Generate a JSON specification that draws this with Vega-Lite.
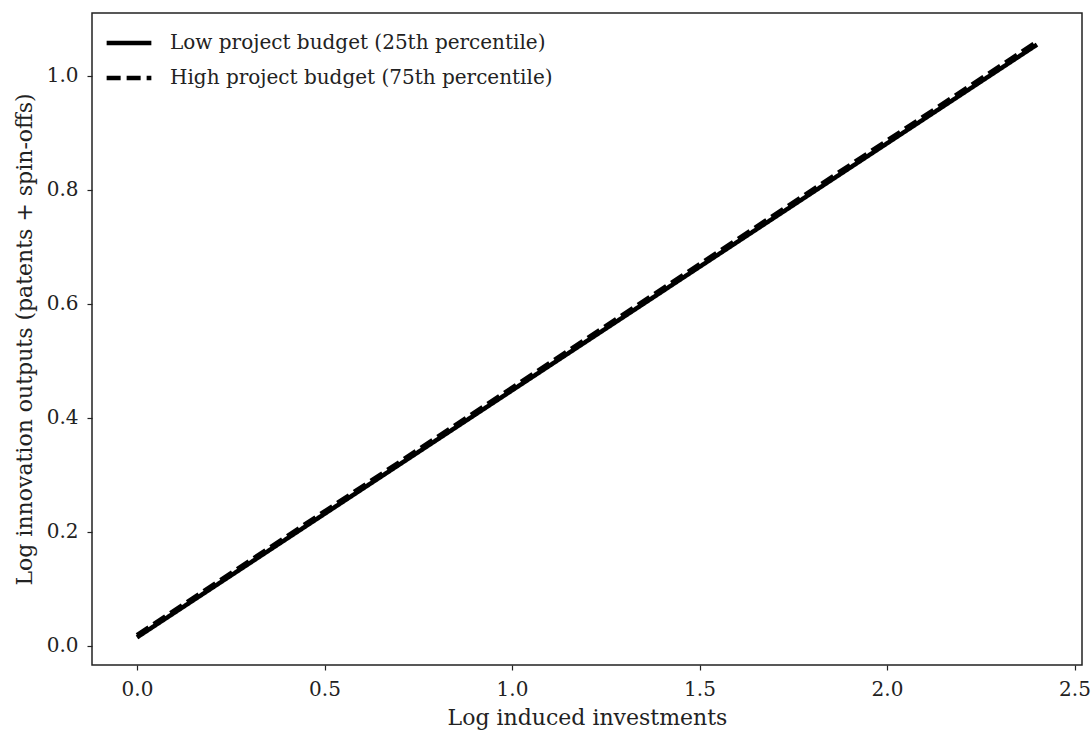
{
  "$schema": "https://vega.github.io/schema/vega-lite/v6.json",
  "width": 990,
  "height": 652,
  "autosize": "none",
  "padding": {"left": 92, "top": 13, "right": 10, "bottom": 71},
  "background": "white",
  "config": {
    "font": "DejaVu Serif",
    "view": {"stroke": "#222", "strokeWidth": 1.5},
    "axis": {"grid": false, "domain": false, "tickColor": "#222", "tickSize": 5, "tickWidth": 1.2, "labelFontSize": 20, "labelColor": "#222", "titleFontSize": 22, "titleFontWeight": "normal", "titleColor": "#222", "labelFont": "DejaVu Serif", "titleFont": "DejaVu Serif"}
  },
  "data": {
    "values": [
      {"series": "Low project budget (25th percentile)", "x": 0.0, "y": 0.015},
      {"series": "Low project budget (25th percentile)", "x": 2.4, "y": 1.055},
      {"series": "High project budget (75th percentile)", "x": 0.0, "y": 0.019},
      {"series": "High project budget (75th percentile)", "x": 2.4, "y": 1.06}
    ]
  },
  "mark": {"type": "line", "color": "black", "strokeWidth": 4.5, "clip": true},
  "encoding": {
    "x": {"field": "x", "type": "quantitative", "scale": {"domain": [-0.12, 2.52], "nice": false, "zero": false},
      "axis": {"values": [0, 0.5, 1.0, 1.5, 2.0, 2.5], "format": ".1f", "title": "Log induced investments", "labelPadding": 9, "titlePadding": 8}},
    "y": {"field": "y", "type": "quantitative", "scale": {"domain": [-0.0335, 1.1105], "nice": false, "zero": false},
      "axis": {"values": [0, 0.2, 0.4, 0.6, 0.8, 1.0], "format": ".1f", "title": "Log innovation outputs (patents + spin-offs)", "labelPadding": 9, "titlePadding": 10}},
    "strokeDash": {"field": "series", "type": "nominal",
      "scale": {"domain": ["Low project budget (25th percentile)", "High project budget (75th percentile)"], "range": [[1, 0], [14, 6]]},
      "legend": {"title": null, "orient": "none", "legendX": 12, "legendY": 5, "labelFontSize": 20, "labelLimit": 0, "labelColor": "#222", "labelFont": "DejaVu Serif", "symbolType": "stroke", "symbolSize": 2000, "symbolStrokeWidth": 4.5, "symbolStrokeColor": "black", "rowPadding": -2, "labelOffset": 16}
    }
  }
}
